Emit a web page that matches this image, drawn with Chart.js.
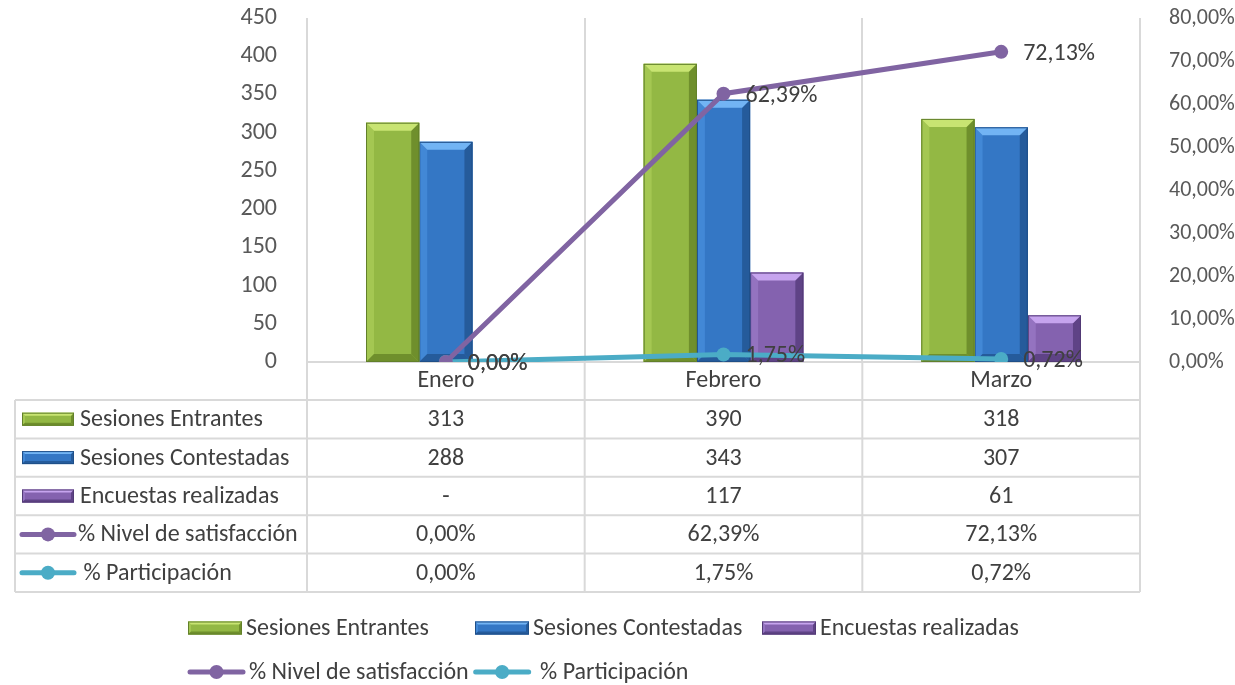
<!DOCTYPE html>
<html>
<head>
<meta charset="utf-8">
<script src="https://cdn.jsdelivr.net/npm/chart.js@4.4.1/dist/chart.umd.min.js"></script>
<style>
  html, body { margin: 0; background: #fff; }
  #wrap { width: 1235px; height: 685px; position: relative; }
</style>
</head>
<body>
<div id="wrap"><canvas id="chart"></canvas></div>
<script>
// Datos
const meses = ["Enero", "Febrero", "Marzo"]
const entrantes = [313, 390, 318]
const contestadas = [288, 343, 307]
const encuestas = [null, 117, 61]
const satisfaccion = [0, 62.39, 72.13]
const participacion = [0, 1.75, 0.72]
const ticksIzq = [0, 50, 100, 150, 200, 250, 300, 350, 400, 450]
const ticksDer = [0, 10, 20, 30, 40, 50, 60, 70, 80]

const FONT = "Carlito, Lato, sans-serif"
const FS = 24

const pct = (v) => v.toFixed(2).replace(".", ",") + "%"
const num = (v) => (v === null ? "-" : String(v))

const estilos = {
  verde: { body: "#93b844", light: "#c8e472", side: "#a4c752", dark: "#6f8f2c", edge: "#62802a" },
  azul: { body: "#3477c5", light: "#72b4f4", side: "#4288d6", dark: "#255b9b", edge: "#1f4f88" },
  morado: { body: "#8462af", light: "#c6a4ee", side: "#9473c0", dark: "#5f4386", edge: "#523a75" },
}

const series = [
  { label: "Sesiones Entrantes", type: "bar", data: entrantes, est: estilos.verde, fmt: num },
  { label: "Sesiones Contestadas", type: "bar", data: contestadas, est: estilos.azul, fmt: num },
  { label: "Encuestas realizadas", type: "bar", data: encuestas, est: estilos.morado, fmt: num },
  { label: "% Nivel de satisfacción", type: "line", data: satisfaccion, color: "#8064a2", fmt: pct },
  { label: " % Participación", type: "line", data: participacion, color: "#4bacc6", fmt: pct },
]

function bevelBox(ctx, l, t, w, h, est, b) {
  const r = l + w
  const bt = t + h
  if (h <= 0) return
  b = Math.min(b, h / 2, w / 2)
  ctx.save()
  ctx.fillStyle = est.body
  ctx.fillRect(l, t, w, h)
  // lado izquierdo
  ctx.fillStyle = est.side
  ctx.beginPath()
  ctx.moveTo(l, t); ctx.lineTo(l + b, t + b); ctx.lineTo(l + b, bt - b); ctx.lineTo(l, bt)
  ctx.closePath(); ctx.fill()
  // lado derecho y base
  ctx.fillStyle = est.dark
  ctx.beginPath()
  ctx.moveTo(r, t); ctx.lineTo(r - b, t + b); ctx.lineTo(r - b, bt - b); ctx.lineTo(r, bt)
  ctx.closePath(); ctx.fill()
  ctx.beginPath()
  ctx.moveTo(l, bt); ctx.lineTo(l + b, bt - b); ctx.lineTo(r - b, bt - b); ctx.lineTo(r, bt)
  ctx.closePath(); ctx.fill()
  // tapa superior
  ctx.fillStyle = est.light
  ctx.beginPath()
  ctx.moveTo(l, t); ctx.lineTo(r, t); ctx.lineTo(r - b, t + b); ctx.lineTo(l + b, t + b)
  ctx.closePath(); ctx.fill()
  ctx.strokeStyle = est.edge
  ctx.lineWidth = 1
  ctx.strokeRect(l + 0.5, t + 0.5, w - 1, h - 1)
  ctx.restore()
}

function simbolo(ctx, s, x, cy, w) {
  if (s.type === "bar") {
    bevelBox(ctx, x, cy - 6.5, w, 13, s.est, 3)
  } else {
    ctx.save()
    ctx.strokeStyle = s.color
    ctx.fillStyle = s.color
    ctx.lineWidth = 5
    ctx.lineCap = "round"
    ctx.beginPath(); ctx.moveTo(x + 2, cy); ctx.lineTo(x + w - 2, cy); ctx.stroke()
    ctx.beginPath(); ctx.arc(x + w / 2, cy, 7, 0, Math.PI * 2); ctx.fill()
    ctx.restore()
  }
}

// Relieve de las barras
const relievePlugin = {
  id: "relieve",
  afterDatasetDraw(chart, args) {
    const s = series[args.index]
    if (s.type !== "bar") return
    const ctx = chart.ctx
    args.meta.data.forEach((el, i) => {
      if (s.data[i] === null) return
      const p = el.getProps(["x", "y", "base", "width"], true)
      bevelBox(ctx, p.x - p.width / 2, p.y, p.width, p.base - p.y, s.est, 8)
    })
  },
}

// Etiquetas de datos de las líneas
const etiquetasPlugin = {
  id: "etiquetas",
  afterDatasetsDraw(chart) {
    const ctx = chart.ctx
    ctx.save()
    ctx.font = FS + "px " + FONT
    ctx.fillStyle = "#404040"
    ctx.textAlign = "left"
    ctx.textBaseline = "middle"
    series.forEach((s, di) => {
      if (s.type !== "line") return
      chart.getDatasetMeta(di).data.forEach((pt, i) => {
        ctx.fillText(pct(s.data[i]), pt.x + 22, pt.y + 2)
      })
    })
    ctx.restore()
  },
}

// Tabla de datos y leyenda
const tablaPlugin = {
  id: "tabla",
  afterDraw(chart) {
    const { ctx, chartArea, scales } = chart
    const x = scales.x
    const bounds = [chartArea.left]
    for (let i = 0; i < meses.length - 1; i++) {
      bounds.push((x.getPixelForValue(i) + x.getPixelForValue(i + 1)) / 2)
    }
    bounds.push(chartArea.right)
    const top = chartArea.bottom + 38
    const rowH = 38.4
    const izq = 15
    const fondo = top + rowH * series.length

    ctx.save()
    ctx.strokeStyle = "#d9d9d9"
    ctx.lineWidth = 2
    const linea = (x1, y1, x2, y2) => { ctx.beginPath(); ctx.moveTo(x1, y1); ctx.lineTo(x2, y2); ctx.stroke() }
    bounds.forEach((b) => linea(b, chartArea.bottom, b, fondo))
    linea(izq, top, izq, fondo)
    for (let r = 0; r <= series.length; r++) linea(izq, top + r * rowH, chartArea.right, top + r * rowH)

    ctx.font = FS + "px " + FONT
    ctx.fillStyle = "#404040"
    ctx.textBaseline = "middle"
    series.forEach((s, r) => {
      const cy = top + r * rowH + rowH / 2
      if (s.type === "bar") simbolo(ctx, s, 22, cy, 52)
      else simbolo(ctx, s, 20, cy, 56)
      ctx.fillStyle = "#404040"
      ctx.textAlign = "left"
      ctx.fillText(s.label, s.type === "bar" ? 80 : 78, cy + 1)
      ctx.textAlign = "center"
      s.data.forEach((v, i) => ctx.fillText(s.fmt(v), x.getPixelForValue(i), cy + 1))
    })

    // Leyenda inferior
    ctx.textAlign = "left"
    const filas = [[0, 1, 2], [3, 4]]
    const ys = [628, 672]
    filas.forEach((fila, f) => {
      let px = 188
      fila.forEach((k) => {
        const s = series[k]
        const w = s.type === "bar" ? 54 : 57
        simbolo(ctx, s, px, ys[f], w)
        ctx.fillStyle = "#404040"
        const tx = px + w + 4
        ctx.fillText(s.label, tx, ys[f] + 1)
        const tw = ctx.measureText(s.label).width
        if (f === 0) px += 287
        else px = tx + tw + 5
      })
    })
    ctx.restore()
  },
}

const datasets = series.map((s) => {
  if (s.type === "bar") {
    return {
      type: "bar",
      label: s.label,
      data: s.data,
      backgroundColor: s.est.body,
      yAxisID: "y",
      order: 2,
      categoryPercentage: 0.575,
      barPercentage: 1,
    }
  }
  return {
    type: "line",
    label: s.label,
    data: s.data,
    borderColor: s.color,
    backgroundColor: s.color,
    borderWidth: 5,
    pointRadius: 7,
    pointBorderWidth: 0,
    pointBackgroundColor: s.color,
    tension: 0,
    yAxisID: "y1",
    order: 1,
  }
})

new Chart(document.getElementById("chart"), {
  data: { labels: meses, datasets },
  options: {
    responsive: true,
    maintainAspectRatio: false,
    animation: false,
    layout: { padding: { top: 18, bottom: 285, left: 0, right: 0 } },
    plugins: { legend: { display: false }, tooltip: { enabled: false } },
    scales: {
      x: {
        grid: { offset: true, color: "#d9d9d9", lineWidth: 2, drawTicks: false },
        border: { color: "#d9d9d9", width: 2 },
        ticks: { color: "#404040", font: { family: FONT, size: FS }, padding: 5 },
        afterFit: (s) => { s.height = 38 },
      },
      y: {
        position: "left",
        min: 0,
        max: 450,
        grid: { display: false },
        border: { display: false },
        afterBuildTicks: (s) => { s.ticks = ticksIzq.map((v) => ({ value: v })) },
        ticks: { color: "#595959", font: { family: FONT, size: FS }, padding: 22 },
        afterFit: (s) => { s.width = 307; s.paddingTop = 0; s.paddingBottom = 0 },
      },
      y1: {
        position: "right",
        min: 0,
        max: 80,
        grid: { display: false },
        border: { display: false },
        afterBuildTicks: (s) => { s.ticks = ticksDer.map((v) => ({ value: v })) },
        ticks: { color: "#595959", font: { family: FONT, size: 22 }, padding: 21, callback: (v) => pct(v) },
        afterFit: (s) => { s.width = 95; s.paddingTop = 0; s.paddingBottom = 0 },
      },
    },
  },
  plugins: [relievePlugin, etiquetasPlugin, tablaPlugin],
})
</script>
</body>
</html>
